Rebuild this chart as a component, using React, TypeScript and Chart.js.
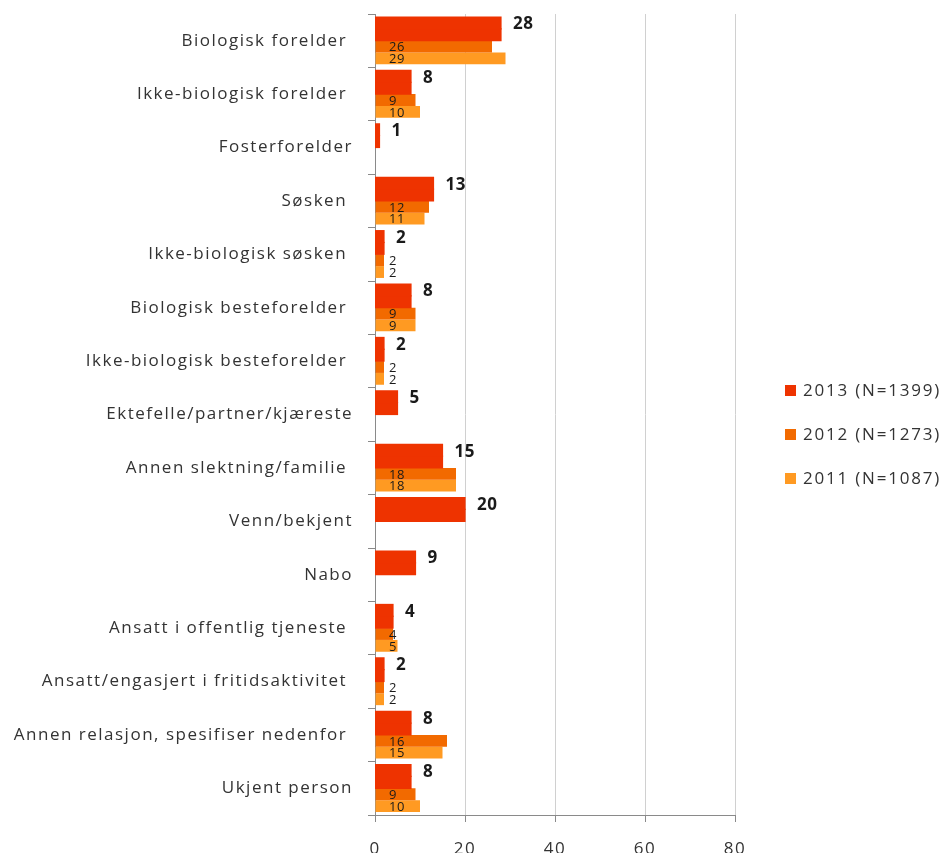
import { useEffect, useRef } from 'react';
import { Chart, registerables } from 'chart.js';

Chart.register(...registerables);

const categories = [
  'Biologisk forelder ',
  'Ikke-biologisk forelder ',
  'Fosterforelder',
  'Søsken ',
  'Ikke-biologisk søsken ',
  'Biologisk besteforelder ',
  'Ikke-biologisk besteforelder ',
  'Ektefelle/partner/kjæreste',
  'Annen slektning/familie ',
  'Venn/bekjent',
  'Nabo',
  'Ansatt i offentlig tjeneste ',
  'Ansatt/engasjert i fritidsaktivitet ',
  'Annen relasjon, spesifiser nedenfor ',
  'Ukjent person',
];
const values2013 = [28, 8, 1, 13, 2, 8, 2, 5, 15, 20, 9, 4, 2, 8, 8];
const values2012 = [26, 9, null, 12, 2, 9, 2, null, 18, null, null, 4, 2, 16, 9];
const values2011 = [29, 10, null, 11, 2, 9, 2, null, 18, null, null, 5, 2, 15, 10];
const seriesLabels = ['2013 (N=1399)', '2012 (N=1273)', '2011 (N=1087)'];
const seriesColors = ['#EE3300', '#F26A00', '#FF9A22'];
const xMin = 0;
const xMax = 80;
const xStep = 20;

const FONT = '"Open Sans", "Liberation Sans", sans-serif';
const TEXT = '#333333';
const AXIS = '#8a8a8a';

const spacingPlugin = {
  id: 'letterSpacing',
  beforeDraw(chart: any) {
    chart.ctx.letterSpacing = '1.5px';
  },
};

const labelPlugin = {
  id: 'valueLabels',
  afterDatasetsDraw(chart: any) {
    const ctx = chart.ctx;
    ctx.save();
    ctx.textAlign = 'left';
    ctx.textBaseline = 'middle';
    ctx.fillStyle = '#1a1a1a';
    chart.data.datasets.forEach((ds: any, i: number) => {
      if (!ds.valueStyle) return;
      const meta = chart.getDatasetMeta(i);
      meta.data.forEach((bar: any, j: number) => {
        const v = ds.data[j];
        if (v === null || v === undefined) return;
        if (ds.valueStyle === 'big') {
          ctx.letterSpacing = '0.5px';
          ctx.font = `bold 17px ${FONT}`;
          ctx.fillText(String(v), bar.x + 12, bar.y + 1.5);
        } else {
          ctx.letterSpacing = '0.5px';
          ctx.font = `13px ${FONT}`;
          ctx.fillText(String(v), chart.chartArea.left + 14, bar.y + 1);
        }
      });
    });
    ctx.restore();
  },
};

const legendPlugin = {
  id: 'sideLegend',
  afterDraw(chart: any) {
    const ctx = chart.ctx;
    const area = chart.chartArea;
    const items = chart.data.datasets.filter((d: any) => d.label);
    const spacing = 44;
    const cx = area.right + 50;
    const cy = (area.top + area.bottom) / 2 + 20;
    const y0 = cy - ((items.length - 1) * spacing) / 2;
    ctx.save();
    ctx.letterSpacing = '1.8px';
    ctx.font = `17px ${FONT}`;
    ctx.textAlign = 'left';
    ctx.textBaseline = 'middle';
    items.forEach((d: any, i: number) => {
      const y = y0 + i * spacing;
      ctx.fillStyle = d.backgroundColor;
      ctx.fillRect(cx, y - 5.5, 11, 11);
      ctx.fillStyle = TEXT;
      ctx.fillText(d.label, cx + 18, y + 1);
    });
    ctx.restore();
  },
};

export default function App() {
  const ref = useRef<HTMLCanvasElement | null>(null);

  useEffect(() => {
    if (!ref.current) return;
    const catPct = 0.886;
    const common = { categoryPercentage: catPct, barPercentage: 1, borderWidth: 0 };
    const chart = new Chart(ref.current, {
      type: 'bar',
      data: {
        labels: categories,
        datasets: [
          // 2013 is drawn twice as thick as the other series: it fills two adjacent slots
          { ...common, label: seriesLabels[0], data: values2013, backgroundColor: seriesColors[0], inflateAmount: 0.6, valueStyle: 'big' } as any,
          { ...common, label: '', data: values2013, backgroundColor: seriesColors[0], inflateAmount: 0.6 } as any,
          { ...common, label: seriesLabels[1], data: values2012, backgroundColor: seriesColors[1], valueStyle: 'small' } as any,
          { ...common, label: seriesLabels[2], data: values2011, backgroundColor: seriesColors[2], valueStyle: 'small' } as any,
        ],
      },
      options: {
        indexAxis: 'y',
        animation: false,
        responsive: false,
        layout: { padding: { top: 14, right: 208, left: 0, bottom: 0 } },
        plugins: {
          legend: { display: false },
          tooltip: { enabled: false },
        },
        scales: {
          x: {
            type: 'linear',
            min: xMin,
            max: xMax,
            ticks: {
              stepSize: xStep,
              color: TEXT,
              font: { family: FONT, size: 17 },
              padding: 17,
            },
            grid: {
              color: '#d0d0d0',
              tickColor: AXIS,
              tickLength: 7,
              lineWidth: 1,
            },
            border: { display: true, color: AXIS, width: 1 },
            afterFit: (scale: any) => {
              scale.height = 38;
              scale.paddingLeft = 0;
              scale.paddingRight = 0;
            },
          },
          y: {
            type: 'category',
            position: 'left',
            offset: true,
            ticks: {
              color: TEXT,
              font: { family: FONT, size: 17 },
              padding: 15,
              autoSkip: false,
            },
            grid: {
              offset: true,
              drawOnChartArea: false,
              drawTicks: true,
              tickLength: 7,
              color: AXIS,
              tickColor: AXIS,
            },
            border: { display: true, color: AXIS, width: 1 },
            afterFit: (scale: any) => {
              scale.width = 375;
              scale.paddingTop = 0;
              scale.paddingBottom = 0;
            },
          },
        },
      },
      plugins: [spacingPlugin, labelPlugin, legendPlugin],
    });
    return () => chart.destroy();
  }, []);

  return (
    <div style={{ position: 'fixed', left: 0, top: 0, width: 943, height: 853, background: '#fff' }}>
      <canvas ref={ref} width={943} height={853} style={{ display: 'block' }} />
    </div>
  );
}
